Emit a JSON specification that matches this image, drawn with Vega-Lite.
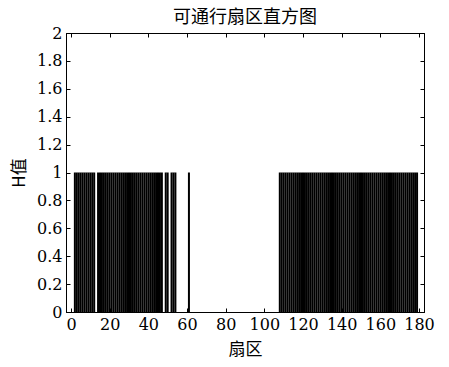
{
  "$schema": "https://vega.github.io/schema/vega-lite/v6.json",
  "width": 358,
  "height": 279,
  "autosize": "none",
  "padding": {"left": 66, "top": 33, "right": 25, "bottom": 55},
  "background": "white",
  "title": {"text": "可通行扇区直方图", "font": "Noto Sans CJK SC", "fontSize": 18, "fontWeight": "normal", "color": "black", "offset": -2, "anchor": "middle"},
  "config": {
    "view": {"stroke": "black", "strokeWidth": 1},
    "axis": {
      "grid": false,
      "domainColor": "black",
      "tickColor": "black",
      "tickSize": -4,
      "labelPadding": 8,
      "labelColor": "black",
      "labelFont": "DejaVu Serif",
      "labelFontSize": 16,
      "titleFont": "Noto Sans CJK SC",
      "titleFontSize": 17,
      "titleFontWeight": "normal",
      "titleColor": "black"
    }
  },
  "data": {"values": [
    {"sector": 2, "H": 1}, {"sector": 3, "H": 1}, {"sector": 4, "H": 1}, {"sector": 5, "H": 1},
    {"sector": 6, "H": 1}, {"sector": 7, "H": 1}, {"sector": 8, "H": 1}, {"sector": 9, "H": 1},
    {"sector": 10, "H": 1}, {"sector": 11, "H": 1}, {"sector": 12, "H": 1}, {"sector": 14, "H": 1},
    {"sector": 15, "H": 1}, {"sector": 16, "H": 1}, {"sector": 17, "H": 1}, {"sector": 18, "H": 1},
    {"sector": 19, "H": 1}, {"sector": 20, "H": 1}, {"sector": 21, "H": 1}, {"sector": 22, "H": 1},
    {"sector": 23, "H": 1}, {"sector": 24, "H": 1}, {"sector": 25, "H": 1}, {"sector": 26, "H": 1},
    {"sector": 27, "H": 1}, {"sector": 28, "H": 1}, {"sector": 29, "H": 1}, {"sector": 30, "H": 1},
    {"sector": 31, "H": 1}, {"sector": 32, "H": 1}, {"sector": 33, "H": 1}, {"sector": 34, "H": 1},
    {"sector": 35, "H": 1}, {"sector": 36, "H": 1}, {"sector": 37, "H": 1}, {"sector": 38, "H": 1},
    {"sector": 39, "H": 1}, {"sector": 40, "H": 1}, {"sector": 41, "H": 1}, {"sector": 42, "H": 1},
    {"sector": 43, "H": 1}, {"sector": 44, "H": 1}, {"sector": 45, "H": 1}, {"sector": 46, "H": 1},
    {"sector": 47, "H": 1}, {"sector": 49, "H": 1}, {"sector": 50, "H": 1}, {"sector": 52, "H": 1},
    {"sector": 53, "H": 1}, {"sector": 54, "H": 1}, {"sector": 61, "H": 1},
    {"sector": 108, "H": 1}, {"sector": 109, "H": 1}, {"sector": 110, "H": 1}, {"sector": 111, "H": 1},
    {"sector": 112, "H": 1}, {"sector": 113, "H": 1}, {"sector": 114, "H": 1}, {"sector": 115, "H": 1},
    {"sector": 116, "H": 1}, {"sector": 117, "H": 1}, {"sector": 118, "H": 1}, {"sector": 119, "H": 1},
    {"sector": 120, "H": 1}, {"sector": 121, "H": 1}, {"sector": 122, "H": 1}, {"sector": 123, "H": 1},
    {"sector": 124, "H": 1}, {"sector": 125, "H": 1}, {"sector": 126, "H": 1}, {"sector": 127, "H": 1},
    {"sector": 128, "H": 1}, {"sector": 129, "H": 1}, {"sector": 130, "H": 1}, {"sector": 131, "H": 1},
    {"sector": 132, "H": 1}, {"sector": 133, "H": 1}, {"sector": 134, "H": 1}, {"sector": 135, "H": 1},
    {"sector": 136, "H": 1}, {"sector": 137, "H": 1}, {"sector": 138, "H": 1}, {"sector": 139, "H": 1},
    {"sector": 140, "H": 1}, {"sector": 141, "H": 1}, {"sector": 142, "H": 1}, {"sector": 143, "H": 1},
    {"sector": 144, "H": 1}, {"sector": 145, "H": 1}, {"sector": 146, "H": 1}, {"sector": 147, "H": 1},
    {"sector": 148, "H": 1}, {"sector": 149, "H": 1}, {"sector": 150, "H": 1}, {"sector": 151, "H": 1},
    {"sector": 152, "H": 1}, {"sector": 153, "H": 1}, {"sector": 154, "H": 1}, {"sector": 155, "H": 1},
    {"sector": 156, "H": 1}, {"sector": 157, "H": 1}, {"sector": 158, "H": 1}, {"sector": 159, "H": 1},
    {"sector": 160, "H": 1}, {"sector": 161, "H": 1}, {"sector": 162, "H": 1}, {"sector": 163, "H": 1},
    {"sector": 164, "H": 1}, {"sector": 165, "H": 1}, {"sector": 166, "H": 1}, {"sector": 167, "H": 1},
    {"sector": 168, "H": 1}, {"sector": 169, "H": 1}, {"sector": 170, "H": 1}, {"sector": 171, "H": 1},
    {"sector": 172, "H": 1}, {"sector": 173, "H": 1}, {"sector": 174, "H": 1}, {"sector": 175, "H": 1},
    {"sector": 176, "H": 1}, {"sector": 177, "H": 1}, {"sector": 178, "H": 1}, {"sector": 179, "H": 1}
  ]},
  "layer": [
    {
      "mark": {"type": "bar", "size": 2, "color": "black"},
      "encoding": {
        "x": {"field": "sector", "type": "quantitative", "scale": {"domain": [0, 180], "nice": false},
              "axis": {"values": [0, 20, 40, 60, 80, 100, 120, 140, 160, 180], "title": "扇区", "titlePadding": 9}},
        "y": {"field": "H", "type": "quantitative", "scale": {"domain": [0, 2], "nice": false},
              "axis": {"values": [0, 0.2, 0.4, 0.6, 0.8, 1, 1.2, 1.4, 1.6, 1.8, 2], "format": "~g", "title": "H值", "titleAngle": 270, "titleBaseline": "bottom", "titlePadding": 8}}
      }
    },
    {
      "mark": {"type": "bar", "size": 2, "opacity": 0},
      "encoding": {
        "x": {"field": "sector", "type": "quantitative", "scale": {"domain": [0, 180], "nice": false},
              "axis": {"orient": "top", "values": [0, 20, 40, 60, 80, 100, 120, 140, 160, 180], "labels": false, "title": null}},
        "y": {"field": "H", "type": "quantitative", "scale": {"domain": [0, 2], "nice": false},
              "axis": {"orient": "right", "values": [0, 0.2, 0.4, 0.6, 0.8, 1, 1.2, 1.4, 1.6, 1.8, 2], "labels": false, "title": null}}
      }
    }
  ],
  "resolve": {"axis": {"x": "independent", "y": "independent"}}
}
